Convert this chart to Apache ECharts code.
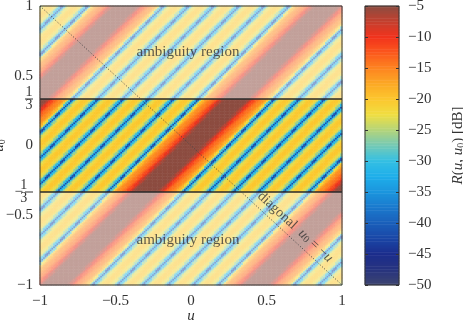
<!DOCTYPE html>
<html><head><meta charset="utf-8">
<script src="https://cdn.jsdelivr.net/npm/echarts@6/dist/echarts.min.js"></script>
<style>html,body{margin:0;padding:0;background:#fff}#c{width:463px;height:326px}</style>
</head><body><div id="c"></div>
<script>
// ---- data ----
const xTicks = [-1, -0.5, 0, 0.5, 1];
const yTicks = [-1, -0.5, -1/3, 0, 1/3, 0.5, 1];
const cbMin = -50, cbMax = -5, cbStep = 5;
const ambiguityBound = 1/3;
const stripeSlope = 0.9;          // stripes follow u - 0.9*u0 = const
const profileStep = 1/72;         // spacing of the profile samples in |u - 0.9 u0|
// R in dB along the stripe-normal coordinate, sampled every 1/72
const profileDb = [
  0, -0.2, -0.8, -1.7, -2.9, -4.3, -5.7, -7.2, -9.5, -11.5, -13, -14, -14.8, -15.5, -16.5, -18.5, -22, -29,
  -42, -31, -26, -23, -21.2, -20.3, -20, -20.3, -21.2, -23, -26, -31,
  -42, -31, -26, -23, -21.2, -20.3, -20, -20.3, -21.2, -23, -26, -31,
  -42, -31, -26, -23, -21.2, -20.3, -20, -20.3, -21.2, -23, -26, -31,
  -42, -31, -26, -23, -21.2, -20.3, -20, -20.3, -21.2, -23, -26, -31,
  -42, -31, -26, -23, -21.2, -20.3, -20, -20.3, -21.2, -23, -26, -31,
  -42, -29, -22, -18.5, -16.5, -15.5, -14.8, -14, -13, -11.5, -9.5, -7.2, -5.7, -4.3, -2.9, -1.7, -0.8, -0.2,
  0, -0.2, -0.8, -1.7, -2.9, -4.3, -5.7, -7.2, -9.5, -11.5, -13, -14, -14.8, -15.5, -16.5, -18.5, -22, -29,
  -42, -31, -26, -23, -21.2, -20.3, -20, -20.3, -21.2, -23, -26, -31,
  -42, -31, -26, -23, -21.2, -20.3, -20, -20.3, -21.2, -23, -26, -31,
  -42, -31, -26, -23, -21.2, -20.3, -20
];
const colorStops = ['#3d4570','#27337f','#1b2d8c','#1a46a6','#1a5fba','#1a79cd','#1b95dd','#1eaeea','#34bfe3','#74c9b6',
  '#b4d47a','#f0de42','#fcc62e','#fca825','#fd8420','#fb581d','#f2321c','#c4402e','#8c4c40'];
const regionLabel = 'ambiguity region';
const regionLabelPos = [[-0.02, 0.67], [-0.02, -0.68]];
const diagLabelPos = [0.69, -0.585];

// ---- build ----
const cellsPerUnit = 90;
const n = 2 * cellsPerUnit;
const cats = [];
for (let i = 0; i < n; i++) cats.push(i);
const heat = [];
for (let i = 0; i < n; i++) {
  const u = -1 + (i + 0.5) / cellsPerUnit;
  for (let j = 0; j < n; j++) {
    const u0 = -1 + (j + 0.5) / cellsPerUnit;
    const k = Math.min(profileDb.length - 1, Math.round(Math.abs(u - stripeSlope * u0) / profileStep));
    heat.push([i, j, Math.max(cbMin, Math.min(cbMax, profileDb[k]))]);
  }
}
const cbCats = [], cbData = [];
const cbN = 180;
for (let k = 0; k < cbN; k++) {
  cbCats.push(k);
  cbData.push([0, k, cbMin + (k + 0.5) * (cbMax - cbMin) / cbN]);
}
const serif = 'Liberation Serif';
const txt = '#333';
const minus = v => (v < 0 ? '\u2212' + (-v) : String(v));
const near = (a, b) => Math.abs(a - b) < 1e-6;

const chart = echarts.init(document.getElementById('c'), null, {renderer: 'canvas'});
chart.setOption({
  animation: false,
  backgroundColor: '#fff',
  grid: [
    {left: 40, top: 6, width: 302, height: 279, show: false, outerBoundsMode: 'none', containLabel: false},
    {left: 365, top: 6, width: 34, height: 279, show: false, outerBoundsMode: 'none', containLabel: false}
  ],
  xAxis: [
    {type: 'category', data: cats, gridIndex: 0, show: false},
    {type: 'value', gridIndex: 0, min: -1, max: 1, interval: 0.5, position: 'bottom',
     axisLine: {show: false}, axisTick: {show: false}, splitLine: {show: false},
     axisLabel: {formatter: minus, fontFamily: serif, fontSize: 15, color: txt, margin: 9},
     name: 'u', nameLocation: 'middle', nameGap: 24, nameMoveOverlap: false,
     nameTextStyle: {fontFamily: serif, fontStyle: 'italic', fontSize: 15, color: txt}},
    {type: 'category', data: [0], gridIndex: 1, show: false},
    {type: 'value', gridIndex: 1, min: 0, max: 1, show: false}
  ],
  yAxis: [
    {type: 'category', data: cats, gridIndex: 0, show: false, position: 'right'},
    {type: 'value', gridIndex: 0, min: -1, max: 1, position: 'left',
     axisLine: {show: false}, axisTick: {show: false}, splitLine: {show: false},
     axisLabel: {
       customValues: yTicks, margin: 7, fontFamily: serif, fontSize: 15, color: txt,
       formatter: v => {
         if (near(v, 1/3)) return '{n|1}\n{bar| }\n{n|3}';
         if (near(v, -1/3)) return '{n|1}\n{m|\u2212}{bar| }\n{n|3}';
         return minus(Math.round(v * 100) / 100);
       },
       rich: {
         n: {fontFamily: serif, fontSize: 14, color: txt, width: 8, align: 'center', lineHeight: 10},
         bar: {width: 8, height: 1, lineHeight: 3, backgroundColor: txt, fontSize: 1},
         m: {fontFamily: serif, fontSize: 15, color: txt, lineHeight: 3, padding: [0, 2, 0, 0]}
       }
     },
     name: '{i|u}{s|0}', nameLocation: 'middle', nameGap: 33, nameRotate: 90, nameMoveOverlap: false,
     nameTextStyle: {rich: {i: {fontFamily: serif, fontStyle: 'italic', fontSize: 15, color: txt},
                            s: {fontFamily: serif, fontSize: 10, color: txt, verticalAlign: 'bottom'}}}},
    {type: 'category', data: cbCats, gridIndex: 1, show: false, position: 'left'},
    {type: 'value', gridIndex: 1, min: cbMin, max: cbMax, interval: cbStep, position: 'right',
     axisLine: {show: false}, splitLine: {show: false},
     axisTick: {show: true, inside: true, length: 3, lineStyle: {color: '#333'}},
     axisLabel: {formatter: minus, fontFamily: serif, fontSize: 15, color: txt, margin: 9},
     name: '{i|R}{t|(}{i|u}{t|, }{i|u}{s|0}{t|) [dB]}', nameLocation: 'middle', nameGap: 52, nameRotate: 90,
     nameMoveOverlap: false,
     nameTextStyle: {rich: {
       i: {fontFamily: serif, fontStyle: 'italic', fontSize: 15, color: txt},
       t: {fontFamily: serif, fontSize: 15, color: txt},
       s: {fontFamily: serif, fontSize: 10, color: txt, verticalAlign: 'bottom'}}}},
    {type: 'value', gridIndex: 1, min: cbMin, max: cbMax, interval: cbStep, position: 'left',
     axisLine: {show: false}, splitLine: {show: false}, axisLabel: {show: false},
     axisTick: {show: true, inside: true, length: 3, lineStyle: {color: '#333'}}}
  ],
  visualMap: {type: 'continuous', min: cbMin, max: cbMax, show: false, seriesIndex: [0, 1], dimension: 2,
              inRange: {color: colorStops}},
  series: [
    {type: 'heatmap', xAxisIndex: 0, yAxisIndex: 0, data: heat, progressive: 0, z: 0, silent: true},
    {type: 'heatmap', xAxisIndex: 2, yAxisIndex: 2, data: cbData, progressive: 0, z: 0, silent: true},
    // faded ambiguity regions (filled areas between the band edge and the frame)
    {type: 'line', xAxisIndex: 1, yAxisIndex: 1, z: 3, silent: true, symbol: 'none',
     lineStyle: {width: 0, opacity: 0}, areaStyle: {color: 'rgba(255,255,255,0.67)', origin: ambiguityBound},
     data: [[-1, 1], [1, 1]]},
    {type: 'line', xAxisIndex: 1, yAxisIndex: 1, z: 3, silent: true, symbol: 'none',
     lineStyle: {width: 0, opacity: 0}, areaStyle: {color: 'rgba(255,255,255,0.67)', origin: -ambiguityBound},
     data: [[-1, -1], [1, -1]]},
    {type: 'line', xAxisIndex: 1, yAxisIndex: 1, z: 4, silent: true, symbol: 'none', clip: false,
     lineStyle: {color: '#2a2a2a', width: 1.5},
     data: [[-1, ambiguityBound], [1, ambiguityBound]]},
    {type: 'line', xAxisIndex: 1, yAxisIndex: 1, z: 4, silent: true, symbol: 'none', clip: false,
     lineStyle: {color: '#2a2a2a', width: 1.5},
     data: [[-1, -ambiguityBound], [1, -ambiguityBound]]},
    // diagonal u0 = -u
    {type: 'line', xAxisIndex: 1, yAxisIndex: 1, z: 5, silent: true, symbol: 'none',
     lineStyle: {color: '#444', width: 1, type: [1, 2]},
     data: [[-1, 1], [1, -1]]},
    // frames
    {type: 'line', xAxisIndex: 1, yAxisIndex: 1, z: 6, silent: true, symbol: 'none', clip: false,
     lineStyle: {color: '#333', width: 1},
     data: [[-1, -1], [1, -1], [1, 1], [-1, 1], [-1, -1]]},
    {type: 'line', xAxisIndex: 3, yAxisIndex: 3, z: 6, silent: true, symbol: 'none', clip: false,
     lineStyle: {color: '#333', width: 1},
     data: [[0, cbMin], [1, cbMin], [1, cbMax], [0, cbMax], [0, cbMin]]},
    // text labels
    {type: 'scatter', xAxisIndex: 1, yAxisIndex: 1, z: 7, silent: true, symbolSize: 1,
     itemStyle: {color: 'rgba(0,0,0,0)'},
     label: {show: true, position: 'inside', formatter: regionLabel, fontFamily: serif, fontSize: 15, color: txt},
     data: regionLabelPos},
    {type: 'scatter', xAxisIndex: 1, yAxisIndex: 1, z: 7, silent: true, symbolSize: 1,
     itemStyle: {color: 'rgba(0,0,0,0)'},
     label: {show: true, position: 'inside', rotate: -42.6,
       formatter: '{t|diagonal  }{i|u}{s|0}{t| = \u2212}{i|u}',
       rich: {t: {fontFamily: serif, fontSize: 14, color: txt},
              i: {fontFamily: serif, fontStyle: 'italic', fontSize: 14, color: txt},
              s: {fontFamily: serif, fontSize: 10, color: txt, verticalAlign: 'bottom'}}},
     data: [diagLabelPos]}
  ]
});
</script></body></html>
